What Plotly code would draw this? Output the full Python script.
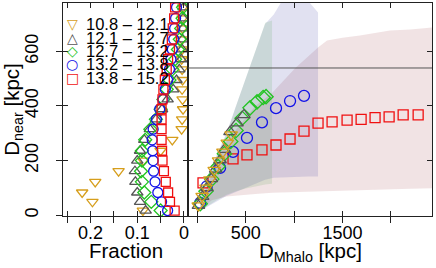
import plotly.graph_objects as go

# ---------------- data ----------------
mass_labels = ["10.8 – 12.1", "12.1 – 12.7", "12.7 – 13.2", "13.2 – 13.8", "13.8 – 15.2"]
colors = ["#D69E1C", "#555555", "#22C422", "#1212E8", "#F01010"]
symbols = ["triangle-down-open", "triangle-up-open", "diamond-open", "circle-open", "square-open"]
legend_glyphs = ["▽", "△", "◇", "○", "□"]

# left panel: fraction vs D_near
d_near_bins = [17, 49, 83, 122, 161, 200, 236, 276, 315, 351, 388, 424, 461, 495, 534, 571, 607, 644, 684, 721, 761]
frac_m1 = [0.088, 0.196, 0.218, 0.19, 0.14, 0.087, 0.05, 0.025, 0.005, 0.004, 0.002, 0.003, 0.004, 0.003, 0.004, 0.005, 0.004, 0.004, 0.003, 0.003, 0.002]
frac_m2 = [0.082, 0.094, 0.1, 0.104, 0.105, 0.1, 0.094, 0.085, 0.073, 0.06, 0.047, 0.035, 0.023, 0.016, 0.01, 0.006, 0.004, 0.003, 0.002, 0.002, 0.001]
frac_m3 = [0.05, 0.07, 0.085, 0.09, 0.092, 0.09, 0.09, 0.083, 0.072, 0.06, 0.05, 0.044, 0.037, 0.031, 0.025, 0.019, 0.013, 0.009, 0.006, 0.003, 0.002]
frac_m4 = [0.035, 0.048, 0.056, 0.062, 0.065, 0.066, 0.067, 0.068, 0.066, 0.059, 0.052, 0.045, 0.04, 0.035, 0.031, 0.028, 0.025, 0.022, 0.02, 0.018, 0.016]
frac_m5 = [0.02, 0.03, 0.034, 0.039, 0.043, 0.046, 0.047, 0.048, 0.048, 0.048, 0.048, 0.046, 0.044, 0.041, 0.037, 0.034, 0.03, 0.026, 0.024, 0.021, 0.019]

# right panel: D_near vs D_Mhalo
dm_m1 = [10, 50, 90, 130, 175, 220, 265, 310, 350]
dn_m1 = [35, 70, 100, 130, 165, 200, 232, 265, 295]
dm_m2 = [12, 55, 100, 145, 190, 235, 280, 338, 410, 482]
dn_m2 = [35, 68, 100, 133, 168, 202, 240, 305, 337, 367]
dm_m3 = [30, 90, 150, 215, 280, 345, 400, 463, 545, 617, 680, 710]
dn_m3 = [42, 88, 132, 178, 225, 270, 310, 355, 393, 415, 431, 434]
dm_m4 = [30, 97, 235, 369, 513, 668, 813, 958, 1102]
dn_m4 = [45, 105, 173, 232, 283, 340, 392, 418, 437]
dm_m5 = [59, 369, 513, 668, 813, 958, 1102, 1247, 1392, 1547, 1692, 1836, 1981, 2126, 2281]
dn_m5 = [118, 206, 221, 239, 257, 279, 308, 337, 342, 348, 351, 357, 360, 367, 367]

# percentile bands (D_near range per D_Mhalo)
band_m3_x = [30, 100, 200, 304, 400, 500, 600, 702, 772]
band_m3_lo = [15, 30, 55, 75, 88, 98, 106, 112, 115]
band_m3_hi = [75, 140, 215, 298, 400, 500, 600, 705, 713]
band_m4_x = [30, 100, 300, 500, 700, 790, 900, 1010, 1144, 1247]
band_m4_lo = [15, 30, 70, 100, 130, 137, 140, 141, 142, 142]
band_m4_hi = [75, 140, 300, 500, 700, 735, 800, 800, 785, 742]
band_m5_x = [60, 150, 300, 600, 772, 1010, 1250, 1340, 1500, 1680, 1990, 2200, 2450]
band_m5_lo = [30, 55, 68, 78, 82, 85, 88, 90, 91, 93, 95, 97, 99]
band_m5_hi = [70, 150, 270, 400, 447, 538, 615, 640, 650, 658, 676, 680, 688]
band_fills = ["rgba(0,130,0,0.10)", "rgba(70,70,170,0.16)", "rgba(150,40,50,0.13)"]

ref_level = 539

x_title_left = "Fraction"
x_title_right = "D<sub>Mhalo</sub> [kpc]"
y_title = "D<sub>near</sub> [kpc]"

# ---------------- figure ----------------
W, H = 436, 268
ml, mr, mt, mb = 63, 4, 3, 52
pw = W - ml - mr
ph = H - mt - mb
split = (188 - ml) / pw

fig = go.Figure()

# bands (right panel)
for bx, blo, bhi, fc in [(band_m5_x, band_m5_lo, band_m5_hi, band_fills[2]),
                         (band_m4_x, band_m4_lo, band_m4_hi, band_fills[1]),
                         (band_m3_x, band_m3_lo, band_m3_hi, band_fills[0])]:
    fig.add_trace(go.Scatter(x=bx + bx[::-1], y=bhi + blo[::-1], fill="toself",
                             fillcolor=fc, line=dict(width=0), mode="lines",
                             hoverinfo="skip", showlegend=False,
                             xaxis="x2", yaxis="y2"))

# left panel markers
left = [frac_m1, frac_m2, frac_m3, frac_m4, frac_m5]
for i, fr in enumerate(left):
    fig.add_trace(go.Scatter(x=fr, y=d_near_bins, mode="markers", name=mass_labels[i],
                             marker=dict(symbol=symbols[i], size=10 if i != 4 else 9,
                                         color=colors[i], line=dict(width=1.3, color=colors[i])),
                             showlegend=False, xaxis="x", yaxis="y"))

# right panel markers (drawn from high mass to low mass)
right = [(dm_m1, dn_m1), (dm_m2, dn_m2), (dm_m3, dn_m3), (dm_m4, dn_m4), (dm_m5, dn_m5)]
for i in [4, 3, 2, 1, 0]:
    xs, ys = right[i]
    fig.add_trace(go.Scatter(x=xs, y=ys, mode="markers", name=mass_labels[i],
                             marker=dict(symbol=symbols[i], size=11 if i != 4 else 10,
                                         color=colors[i], line=dict(width=1.3, color=colors[i])),
                             showlegend=False, xaxis="x2", yaxis="y2"))

# empty traces to create overlay tick axes
fig.add_trace(go.Scatter(x=[], y=[], xaxis="x3", yaxis="y3", showlegend=False))
fig.add_trace(go.Scatter(x=[], y=[], xaxis="x4", yaxis="y4", showlegend=False))
fig.add_trace(go.Scatter(x=[], y=[], xaxis="x5", yaxis="y3", showlegend=False))
fig.add_trace(go.Scatter(x=[], y=[], xaxis="x6", yaxis="y4", showlegend=False))

font_main = "Liberation Sans, Arial, sans-serif"
xr_left = [0.259, -0.0086]
xr_right = [-96, 2424]
yr = [-3, 777]
ticks_left = [0, 0.05, 0.1, 0.15, 0.2, 0.25]
ticks_right = [0, 500, 1000, 1500, 2000]
ticks_y = [0, 200, 400, 600]

common_line = dict(showline=True, linecolor="#222", linewidth=1, showgrid=False, zeroline=False,
                   automargin=False)
overlay_in = dict(showline=False, showgrid=False, zeroline=False, showticklabels=False,
                  ticks="inside", mirror="ticks", ticklen=5, tickcolor="#222", automargin=False)
overlay_out = dict(showline=False, showgrid=False, zeroline=False, showticklabels=False,
                   ticks="outside", ticklen=6, tickcolor="#222", automargin=False)

fig.update_layout(
    width=W, height=H, margin=dict(l=ml, r=mr, t=mt, b=mb, autoexpand=False),
    paper_bgcolor="white", plot_bgcolor="white",
    font=dict(family=font_main, size=18, color="black"),
    xaxis=dict(domain=[0, split], range=xr_left, anchor="y", mirror=True,
               tickvals=ticks_left, ticktext=["0", "", "0.1", "", "0.2", ""],
               ticks="", ticklabelstandoff=0, **common_line),
    xaxis2=dict(domain=[split, 1], range=xr_right, anchor="y2", mirror=True,
                tickvals=ticks_right, ticktext=["", "500", "", "1500", ""],
                ticks="", ticklabelstandoff=0, **common_line),
    yaxis=dict(domain=[0, 1], range=yr, anchor="x", mirror=True,
               tickvals=ticks_y, tickangle=-90,
               ticks="outside", ticklen=6, tickcolor="#222", ticklabelstandoff=11,
               title=dict(text=y_title, font=dict(size=20.5), standoff=0), **common_line),
    yaxis2=dict(domain=[0, 1], range=yr, anchor="x2", mirror=True, showticklabels=False,
                ticks="", **common_line),
    xaxis3=dict(overlaying="x", range=xr_left, anchor="y3", tickvals=ticks_left, **overlay_in),
    yaxis3=dict(overlaying="y", range=yr, anchor="x3", tickvals=ticks_y, **overlay_in),
    xaxis4=dict(overlaying="x2", range=xr_right, anchor="y4", tickvals=ticks_right, **overlay_in),
    yaxis4=dict(overlaying="y2", range=yr, anchor="x4", tickvals=ticks_y, **overlay_in),
    xaxis5=dict(overlaying="x", range=xr_left, anchor="y3", tickvals=ticks_left, **overlay_out),
    xaxis6=dict(overlaying="x2", range=xr_right, anchor="y4", tickvals=ticks_right, **overlay_out),
    showlegend=False,
)

fig.add_shape(type="line", xref="x2 domain", x0=0, x1=1, yref="y2", y0=ref_level, y1=ref_level,
              line=dict(color="#555", width=1), layer="above")

# x-axis titles (placed as annotations below each panel)
fig.add_annotation(xref="x domain", yref="paper", x=0.5, y=(H - mb - 250) / ph,
                   text=x_title_left, showarrow=False, xanchor="center", yanchor="middle",
                   font=dict(family=font_main, size=20.5, color="black"))
fig.add_annotation(xref="x2 domain", yref="paper", x=0.5, y=(H - mb - 252) / ph,
                   text=x_title_right, showarrow=False, xanchor="center", yanchor="middle",
                   font=dict(family=font_main, size=20.5, color="black"))

# legend made of annotations
row_px = [24, 37.5, 51, 64.5, 78]
for i, lab in enumerate(mass_labels):
    yp = (H - mb - row_px[i]) / ph
    fig.add_annotation(xref="paper", yref="paper", x=(72 - ml) / pw, y=yp,
                       text=legend_glyphs[i], showarrow=False, xanchor="center", yanchor="middle",
                       font=dict(family="DejaVu Sans", size=14, color=colors[i]))
    fig.add_annotation(xref="paper", yref="paper", x=(84 - ml) / pw, y=yp,
                       text=lab, showarrow=False, xanchor="left", yanchor="middle",
                       font=dict(family=font_main, size=16.5, color="black"))

fig.write_html("out.html", config={"displayModeBar": False},
               post_script="document.body.style.margin='0px';document.body.style.overflow='hidden';")
